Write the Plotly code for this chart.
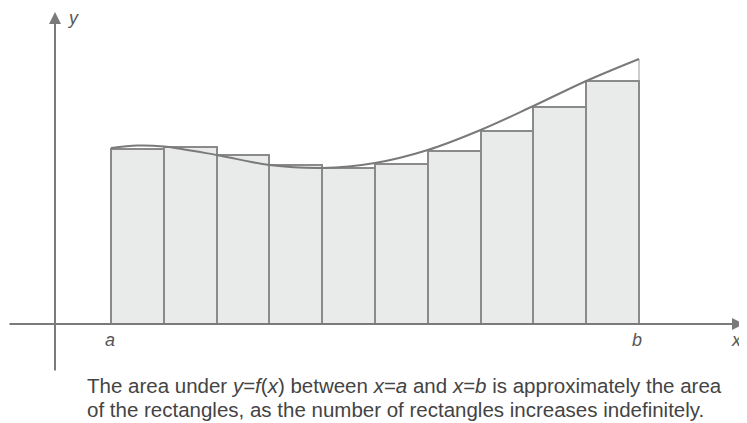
import plotly.graph_objects as go

# left edges of the rectangles (a = 1, b = 11) and their heights f(left edge)
rect_left = [1, 2, 3, 4, 5, 6, 7, 8, 9, 10]
rect_height = [3.50, 3.54, 3.38, 3.18, 3.12, 3.20, 3.46, 3.86, 4.34, 4.86]

curve_x = [1, 1.5, 2, 3, 4, 5, 6, 7, 8, 9, 10, 11]
curve_y = [3.52, 3.57, 3.55, 3.38, 3.18, 3.12, 3.22, 3.48, 3.88, 4.36, 4.86, 5.30]

a_pos, b_pos = 1, 11

# the page body keeps an 8px margin, so the figure sits at (8, 8)
OFF = 8
W, H = 747 - OFF, 423 - OFF
PX_X = 52.8      # pixels per x unit
PX_Y = 50.0      # pixels per y unit
X0_PIX, Y0_PIX = 111, 324   # page pixel position of (a, 0)

xmin = a_pos - (X0_PIX - OFF) / PX_X
xmax = xmin + W / PX_X
ymax = (Y0_PIX - OFF) / PX_Y
ymin = ymax - H / PX_Y

AXIS = "#7a7a7a"
TEXT = "#555555"

fig = go.Figure()

fig.add_trace(go.Bar(
    x=rect_left, y=rect_height, width=1, offset=0,
    marker=dict(color="#e9eaea", line=dict(color="#8a8a8a", width=2)),
    hoverinfo="skip", showlegend=False,
))

# thin edge at b up to the curve
fig.add_trace(go.Scatter(
    x=[b_pos, b_pos], y=[rect_height[-1], curve_y[-1]], mode="lines",
    line=dict(color="#9a9a9a", width=1), hoverinfo="skip", showlegend=False,
))

fig.add_trace(go.Scatter(
    x=curve_x, y=curve_y, mode="lines", line_shape="spline",
    line=dict(color="#7a7a7a", width=2), hoverinfo="skip", showlegend=False,
))


def px(xp):
    return (xp - OFF) / W


def py(yp):
    return 1 - (yp - OFF) / H


# axes with arrow heads
fig.add_annotation(xref="paper", yref="paper", x=px(744), y=py(Y0_PIX),
                   ax=-736, ay=0, showarrow=True, arrowhead=2, arrowsize=1.2,
                   arrowwidth=2, arrowcolor=AXIS, text="")
fig.add_annotation(xref="paper", yref="paper", x=px(55), y=py(12),
                   ax=0, ay=360, showarrow=True, arrowhead=2, arrowsize=1.2,
                   arrowwidth=2, arrowcolor=AXIS, text="")

label_font = dict(family="Liberation Sans, Arial, sans-serif", size=18, color=TEXT)
for txt, xp, yp in [("y", 73, 18), ("a", 110, 340), ("b", 637, 340), ("x", 736, 340)]:
    fig.add_annotation(xref="paper", yref="paper", x=px(xp), y=py(yp),
                       text=f"<i>{txt}</i>", showarrow=False, font=label_font,
                       xanchor="center", yanchor="middle")

cap_font = dict(family="Liberation Sans, Arial, sans-serif", size=20.5, color="#444444")
fig.add_annotation(xref="paper", yref="paper", x=px(85), y=py(385),
                   text="The area under <i>y</i>=<i>f</i>(<i>x</i>) between <i>x</i>=<i>a</i> and <i>x</i>=<i>b</i> is approximately the area",
                   showarrow=False, font=cap_font, xanchor="left", yanchor="middle")
fig.add_annotation(xref="paper", yref="paper", x=px(85), y=py(409),
                   text="of the rectangles, as the number of rectangles increases indefinitely.",
                   showarrow=False, font=cap_font, xanchor="left", yanchor="middle")

fig.update_layout(
    width=W, height=H, margin=dict(l=0, r=0, t=0, b=0),
    plot_bgcolor="white", paper_bgcolor="white", bargap=0,
    xaxis=dict(range=[xmin, xmax], visible=False, fixedrange=True),
    yaxis=dict(range=[ymin, ymax], visible=False, fixedrange=True),
)

fig.write_html("out.html")
